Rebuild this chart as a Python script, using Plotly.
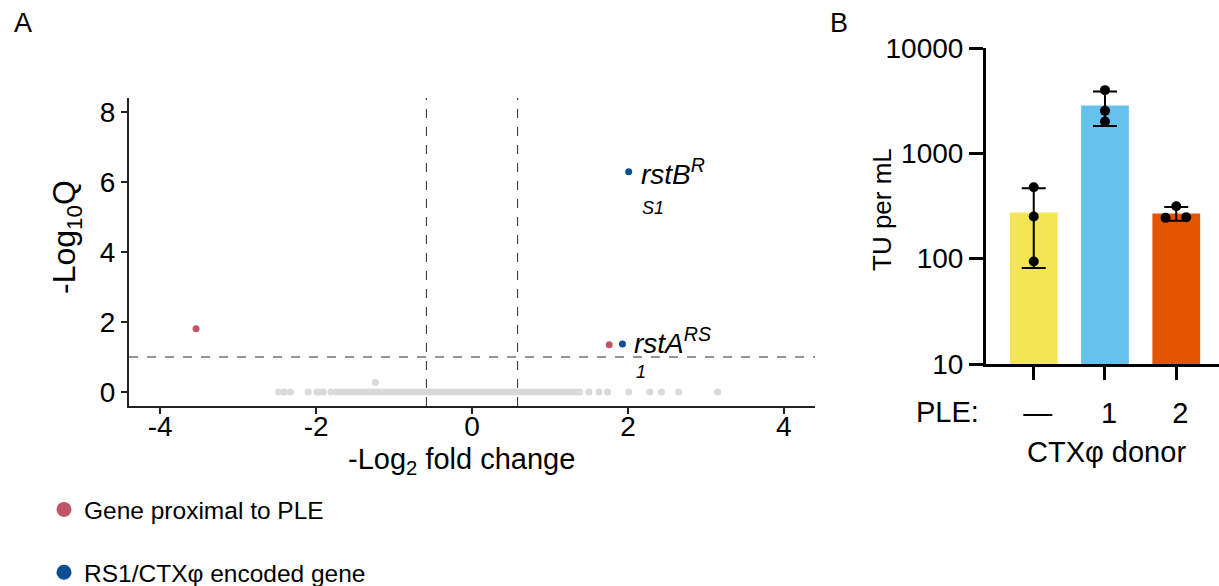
import statistics
import plotly.graph_objects as go

# ---------------- Panel A data (volcano) ----------------
gray_fc = [-2.48, -2.41, -2.33, -2.10, -1.99, -1.95, -1.91, -1.81, -1.74, -1.69, -1.64, -1.59,
           -1.55, -1.51, -1.46, -1.42, -1.37, -1.33, -1.28, -1.24, -1.20, -1.15, -1.11, -1.06,
           -1.02, -0.97, -0.93, -0.89, -0.85, -0.80, -0.76, -0.71, -0.67, -0.62, -0.58, -0.54,
           -0.50, -0.45, -0.41, -0.37, -0.32, -0.28, -0.24, -0.19, -0.15, -0.11, -0.06, -0.02,
           0.02, 0.07, 0.11, 0.15, 0.20, 0.24, 0.28, 0.33, 0.37, 0.41, 0.46, 0.50, 0.54, 0.59,
           0.63, 0.67, 0.72, 0.76, 0.80, 0.85, 0.89, 0.93, 0.98, 1.02, 1.06, 1.11, 1.15, 1.19,
           1.24, 1.28, 1.33, 1.38, 1.50, 1.63, 1.74, 2.01, 2.28, 2.43, 2.65, 3.15, -1.24]
gray_q = [0.0] * 88 + [0.27]

ple_fc = [-3.54, 1.76]
ple_q = [1.81, 1.35]

rs1_fc = [2.01, 1.93]
rs1_q = [6.29, 1.37]

fc_cutoffs = [-0.585, 0.585]
q_cutoff = 1.0

x_ticks_a = [-4, -2, 0, 2, 4]
y_ticks_a = [0, 2, 4, 6, 8]

# ---------------- Panel B data (bars) ----------------
groups = ["—", "1", "2"]
replicates = [[477, 251, 94], [3981, 2531, 2004], [315, 244, 247]]
dot_offsets = [[0, 0, 0], [0, 0, 0], [0.0, -0.15, 0.14]]
bar_colors = ["#f3e553", "#66c1ee", "#e35500"]
y_ticks_b = [10, 100, 1000, 10000]

FONT = "Liberation Sans, Arial, sans-serif"
RED = "#c05566"
BLUE = "#0b4f92"
GRAY = "#d9d9d9"

W, H = 1219, 586


def px_x(p):
    return p / W


def px_y(p):
    return 1 - p / H


fig = go.Figure()

# volcano points
fig.add_trace(go.Scatter(x=gray_fc, y=gray_q, mode="markers",
                         marker=dict(color=GRAY, size=7), showlegend=False,
                         xaxis="x", yaxis="y", hoverinfo="skip"))
fig.add_trace(go.Scatter(x=ple_fc, y=ple_q, mode="markers",
                         marker=dict(color=RED, size=7), showlegend=False,
                         xaxis="x", yaxis="y"))
fig.add_trace(go.Scatter(x=rs1_fc, y=rs1_q, mode="markers",
                         marker=dict(color=BLUE, size=7), showlegend=False,
                         xaxis="x", yaxis="y"))
# legend entries
fig.add_trace(go.Scatter(x=[None], y=[None], mode="markers", name="Gene proximal to PLE",
                         marker=dict(color=RED, size=15), legendgroup="g1",
                         xaxis="x", yaxis="y"))
fig.add_trace(go.Scatter(x=[None], y=[None], mode="markers", name="RS1/CTXφ encoded gene",
                         marker=dict(color=BLUE, size=15), legendgroup="g2",
                         xaxis="x", yaxis="y"))

# bars
means = [statistics.mean(r) for r in replicates]
sds = [statistics.stdev(r) for r in replicates]
fig.add_trace(go.Bar(x=[0, 1, 2], y=means, width=0.67,
                     marker=dict(color=bar_colors, line=dict(width=0)),
                     error_y=dict(type="data", array=sds, symmetric=True,
                                  color="black", thickness=2, width=12),
                     showlegend=False, xaxis="x2", yaxis="y2"))
for gi, reps in enumerate(replicates):
    fig.add_trace(go.Scatter(x=[gi + o for o in dot_offsets[gi]], y=reps, mode="markers",
                             marker=dict(color="black", size=10), showlegend=False,
                             xaxis="x2", yaxis="y2"))

shapes = []
for c in fc_cutoffs:
    shapes.append(dict(type="line", xref="x", yref="paper", x0=c, x1=c,
                       y0=px_y(406), y1=px_y(98),
                       line=dict(color="#2a2a2a", width=1, dash="dash")))
shapes.append(dict(type="line", xref="paper", yref="y", x0=px_x(129), x1=px_x(815),
                   y0=q_cutoff, y1=q_cutoff,
                   line=dict(color="#2a2a2a", width=1, dash="dash")))

annotations = [
    dict(text="A", x=px_x(12), y=px_y(23), xref="paper", yref="paper", showarrow=False,
         xanchor="left", yanchor="middle", font=dict(size=27, color="black", family=FONT)),
    dict(text="B", x=px_x(828), y=px_y(23), xref="paper", yref="paper", showarrow=False,
         xanchor="left", yanchor="middle", font=dict(size=27, color="black", family=FONT)),
    # axis titles
    dict(text="-Log<sub>2</sub> fold change", x=px_x(462), y=px_y(461), xref="paper",
         yref="paper", showarrow=False, xanchor="center", yanchor="middle",
         font=dict(size=29, color="black", family=FONT)),
    dict(text="-Log<sub>10</sub>Q", x=px_x(66), y=px_y(237), xref="paper",
         yref="paper", showarrow=False, xanchor="center", yanchor="middle", textangle=-90,
         font=dict(size=32, color="black", family=FONT)),
    dict(text="TU per mL", x=px_x(882), y=px_y(210), xref="paper",
         yref="paper", showarrow=False, xanchor="center", yanchor="middle", textangle=-90,
         font=dict(size=26, color="black", family=FONT)),
    # gene labels
    dict(text="<i>rstB</i><sup><i>R</i></sup>", x=rs1_fc[0], y=rs1_q[0], xref="x", yref="y",
         xshift=10, yshift=0, showarrow=False, xanchor="left", yanchor="middle",
         font=dict(size=28, color="black", family=FONT)),
    dict(text="<i>S1</i>", x=rs1_fc[0], y=rs1_q[0], xref="x", yref="y",
         xshift=11, yshift=-36, showarrow=False, xanchor="left", yanchor="middle",
         font=dict(size=18, color="black", family=FONT)),
    dict(text="<i>rstA</i><sup><i>RS</i></sup>", x=rs1_fc[1], y=rs1_q[1], xref="x", yref="y",
         xshift=10, yshift=3, showarrow=False, xanchor="left", yanchor="middle",
         font=dict(size=28, color="black", family=FONT)),
    dict(text="<i>1</i>", x=rs1_fc[1], y=rs1_q[1], xref="x", yref="y",
         xshift=12, yshift=-28, showarrow=False, xanchor="left", yanchor="middle",
         font=dict(size=18, color="black", family=FONT)),
    # panel B labels
    dict(text="PLE:", x=px_x(981), y=px_y(412), xref="paper", yref="paper", showarrow=False,
         xanchor="right", yanchor="middle", font=dict(size=29, color="black", family=FONT)),
    dict(text="CTXφ donor", x=px_x(1106), y=px_y(452), xref="paper", yref="paper",
         showarrow=False, xanchor="center", yanchor="middle",
         font=dict(size=29, color="black", family=FONT)),
]

fig.update_layout(
    width=W, height=H,
    margin=dict(l=0, r=0, t=0, b=0, autoexpand=False),
    paper_bgcolor="white", plot_bgcolor="white",
    font=dict(family=FONT, color="black"),
    shapes=shapes, annotations=annotations,
    showlegend=True,
    legend=dict(x=px_x(44), y=px_y(487), xanchor="left", yanchor="top",
                font=dict(size=24.5, family=FONT, color="black"),
                tracegroupgap=28, itemsizing="trace", bgcolor="rgba(0,0,0,0)"),
    xaxis=dict(domain=[px_x(129), px_x(815)], range=[-4.4, 4.4], anchor="y", automargin=False,
               tickvals=x_ticks_a, ticktext=[str(v) for v in x_ticks_a],
               showline=True, linecolor="#222222", linewidth=2, showgrid=False,
               zeroline=False, ticks="outside", ticklen=6, tickwidth=2, tickcolor="#222222",
               ticklabelstandoff=-12,
               tickfont=dict(size=28, family=FONT, color="black")),
    yaxis=dict(domain=[px_y(406), px_y(98)], range=[-0.4, 8.4], anchor="x", automargin=False,
               tickvals=y_ticks_a, ticktext=[str(v) for v in y_ticks_a],
               showline=True, linecolor="#222222", linewidth=2, showgrid=False,
               zeroline=False, ticks="outside", ticklen=6, tickwidth=2, tickcolor="#222222",
               tickfont=dict(size=28, family=FONT, color="black")),
    xaxis2=dict(domain=[px_x(986), px_x(1219)], range=[-0.67, 2.6], anchor="y2",
                automargin=False,
                tickvals=[0, 1, 2], ticktext=groups,
                showline=True, linecolor="black", linewidth=3, showgrid=False,
                zeroline=False, ticks="outside", ticklen=13, tickwidth=3, tickcolor="black",
                ticklabelstandoff=8, ticklabelshift=4,
                tickfont=dict(size=29, family=FONT, color="black")),
    yaxis2=dict(domain=[px_y(364), px_y(48)], type="log", range=[1, 4], anchor="x2",
                automargin=False,
                tickvals=y_ticks_b, ticktext=[str(v) for v in y_ticks_b],
                showline=True, linecolor="black", linewidth=3, showgrid=False,
                zeroline=False, ticks="outside", ticklen=14, tickwidth=3, tickcolor="black",
                tickfont=dict(size=28, family=FONT, color="black")),
)

fig.write_html("out.html", config={"displayModeBar": False},
               post_script="document.body.style.margin='0';")
